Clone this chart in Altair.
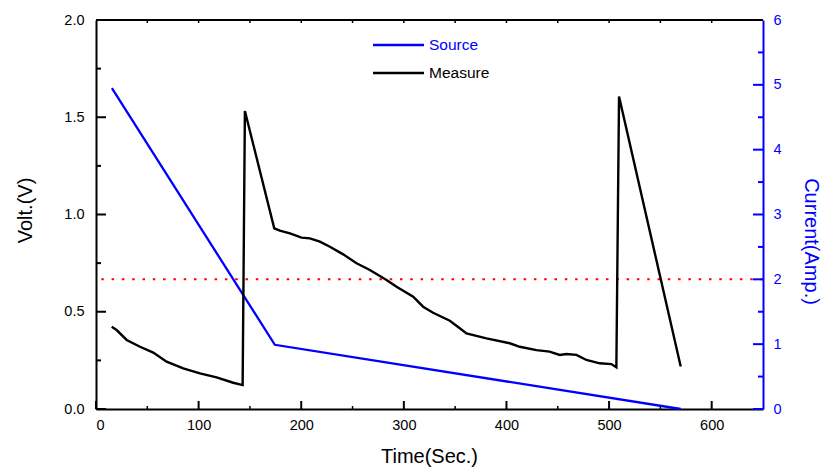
import altair as alt
import pandas as pd

# ---------------- data ----------------
measure_t = [15.3, 20.1, 29.9, 42.9, 55.8, 68.8, 85.0, 101.3, 117.5, 133.7, 142.9,
             145.1, 173.7, 179.2, 189.0, 200.3, 208.4, 218.2, 227.9, 240.9, 253.9,
             266.9, 283.1, 292.9, 309.1, 318.8, 328.5, 344.8, 354.5, 361.0, 380.5,
             403.2, 413.0, 429.2, 442.0, 451.9, 458.4, 468.2, 477.9, 490.9, 502.3,
             507.1, 509.7, 569.8]
measure_v = [0.423, 0.406, 0.355, 0.320, 0.290, 0.243, 0.209, 0.183, 0.163, 0.135, 0.123,
             1.532, 0.929, 0.917, 0.903, 0.881, 0.877, 0.860, 0.834, 0.795, 0.749,
             0.715, 0.663, 0.629, 0.577, 0.526, 0.495, 0.454, 0.415, 0.389, 0.363,
             0.338, 0.320, 0.303, 0.295, 0.278, 0.283, 0.278, 0.252, 0.235, 0.231,
             0.214, 1.607, 0.218]

source_t = [15.5, 174.3, 569.8]
source_a = [4.95, 0.99, 0.0]

ref_current = [2.0]

x_major = [0, 100, 200, 300, 400, 500, 600]
x_minor = [50, 150, 250, 350, 450, 550]
x_top = [50, 100, 150, 200, 250, 300, 350, 400, 450, 500, 550, 600]
v_major = [0.0, 0.5, 1.0, 1.5, 2.0]
v_minor = [0.25, 0.75, 1.25, 1.75]
a_major = [0, 1, 2, 3, 4, 5, 6]
a_minor = [0.5, 1.5, 2.5, 3.5, 4.5, 5.5]

legend_labels = ["Source", "Measure"]

# ---------------- style ----------------
W, H = 667, 389
BLUE = "#0000ff"
FONT = "Liberation Sans"
TFS = 20

xs = alt.Scale(domain=[0, 650], nice=False, zero=False)
yl = alt.Scale(domain=[0, 2], nice=False, zero=False)
yr = alt.Scale(domain=[0, 6], nice=False, zero=False)

measure_df = pd.DataFrame({"t": measure_t, "v": measure_v})
source_df = pd.DataFrame({"t": source_t, "a": source_a})

x_axis = alt.Axis(title="Time(Sec.)", orient="bottom", values=x_major, format="d", ticks=False,
                  grid=False, domainColor="black", domainWidth=2, labelFontSize=14.5, labelPadding=9,
                  labelColor="black", labelFont=FONT, titleFont=FONT, titleFontSize=TFS,
                  titleFontWeight="normal", titleColor="black", titleX=333, titleY=47,
                  titleBaseline="middle", titleAlign="center")

left_axis = alt.Axis(title="Volt.(V)", orient="left", values=v_major, format=".1f",
                     ticks=False, grid=False, domainColor="black", domainWidth=2,
                     labelFontSize=14.5, labelPadding=12, labelColor="black", labelFont=FONT,
                     titleFont=FONT, titleFontSize=TFS, titleFontWeight="normal",
                     titleColor="black", titleAngle=270, titleX=-71, titleY=190,
                     titleAlign="center", titleBaseline="middle")

right_axis = alt.Axis(title="Current(Amp.)", orient="right", values=a_major, format="d",
                      ticks=False, grid=False, domainColor=BLUE, domainWidth=2,
                      labelFontSize=14.5, labelPadding=10, labelColor=BLUE, labelFont=FONT,
                      titleFont=FONT, titleFontSize=TFS, titleFontWeight="normal",
                      titleColor=BLUE, titleAngle=90, titleX=47, titleY=221,
                      titleAlign="center", titleBaseline="middle")

X = lambda: alt.X("t:Q", scale=xs, axis=x_axis)

# reference line (2 A)
ref = alt.Chart(pd.DataFrame({"a": ref_current})).mark_rule(
    color="red", strokeWidth=2, strokeDash=[2.5, 7.8]
).encode(y=alt.Y("a:Q", scale=yr, axis=None))

source = alt.Chart(source_df).mark_line(color=BLUE, strokeWidth=2.3).encode(
    x=X(), y=alt.Y("a:Q", scale=yr, axis=right_axis),
)

measure = alt.Chart(measure_df).mark_line(color="black", strokeWidth=2.4).encode(
    x=X(), y=alt.Y("v:Q", scale=yl, axis=left_axis),
)

# inward ticks
lt_major = alt.Chart(pd.DataFrame({"v": v_major})).mark_rule(color="black", strokeWidth=2).encode(
    y=alt.Y("v:Q", scale=yl, axis=None), x=alt.value(0), x2=alt.value(10))
lt_minor = alt.Chart(pd.DataFrame({"v": v_minor})).mark_rule(color="black", strokeWidth=2).encode(
    y=alt.Y("v:Q", scale=yl, axis=None), x=alt.value(0), x2=alt.value(5))
rt_major = alt.Chart(pd.DataFrame({"a": a_major})).mark_rule(color=BLUE, strokeWidth=2).encode(
    y=alt.Y("a:Q", scale=yr, axis=None), x=alt.value(W - 10), x2=alt.value(W))
rt_minor = alt.Chart(pd.DataFrame({"a": a_minor})).mark_rule(color=BLUE, strokeWidth=2).encode(
    y=alt.Y("a:Q", scale=yr, axis=None), x=alt.value(W - 5), x2=alt.value(W))
bt_major = alt.Chart(pd.DataFrame({"t": x_major})).mark_rule(color="black", strokeWidth=2).encode(
    x=X(), y=alt.value(H), y2=alt.value(H - 8))
bt_minor = alt.Chart(pd.DataFrame({"t": x_minor})).mark_rule(color="black", strokeWidth=1.5).encode(
    x=X(), y=alt.value(H), y2=alt.value(H - 3))
top_ticks = alt.Chart(pd.DataFrame({"t": x_top})).mark_rule(color="black", strokeWidth=1.5).encode(
    x=X(), y=alt.value(0), y2=alt.value(3))
top_border = alt.Chart(pd.DataFrame({"k": [0]})).mark_rule(color="black", strokeWidth=2).encode(
    x=alt.value(0), x2=alt.value(W), y=alt.value(0))

# legend
leg_line1 = alt.Chart(pd.DataFrame({"k": [0]})).mark_rule(color=BLUE, strokeWidth=2.3).encode(
    x=alt.value(277), x2=alt.value(328), y=alt.value(25))
leg_line2 = alt.Chart(pd.DataFrame({"k": [0]})).mark_rule(color="black", strokeWidth=2.3).encode(
    x=alt.value(277), x2=alt.value(328), y=alt.value(53))
leg_text1 = alt.Chart(pd.DataFrame({"label": [legend_labels[0]]})).mark_text(
    color=BLUE, font=FONT, fontSize=15.5, align="left", baseline="middle"
).encode(x=alt.value(333), y=alt.value(25), text="label:N")
leg_text2 = alt.Chart(pd.DataFrame({"label": [legend_labels[1]]})).mark_text(
    color="black", font=FONT, fontSize=15.5, align="left", baseline="middle"
).encode(x=alt.value(333), y=alt.value(53), text="label:N")

chart = alt.layer(
    ref, source, measure,
    lt_major, lt_minor, rt_major, rt_minor, bt_major, bt_minor, top_ticks, top_border,
    leg_line1, leg_line2, leg_text1, leg_text2,
).resolve_scale(y="independent").properties(
    width=W, height=H,
    padding={"left": 96, "top": 20, "right": 59, "bottom": 65},
    autosize=alt.AutoSizeParams(type="none"),
).configure_view(stroke=None).configure(background="white")

chart.save("out.html", embed_options={"renderer": "svg", "actions": False})
